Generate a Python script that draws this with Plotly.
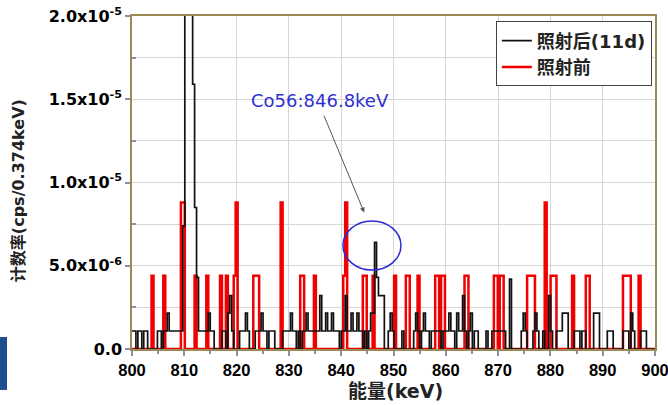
import numpy as np
import plotly.graph_objects as go

# ---------------- data ----------------
BIN_START = 800.0          # keV
BIN_WIDTH = 0.374          # keV per channel
N_BINS = 268

# after irradiation (11 d): bin-centre energy (keV) and count rate (1e-6 cps / 0.374 keV)
black_energy = [800.2, 800.6, 801.3, 801.7, 802.4, 802.8, 805.1, 805.4,
                806.2, 806.5, 806.9, 807.3, 807.7, 808.0, 808.4, 808.8, 809.2,
                809.5, 809.9, 810.3, 810.7, 811.0, 811.4, 811.8, 812.2, 812.5,
                812.9, 813.3, 813.7, 814.0, 814.4, 814.8, 815.1, 815.5,
                817.4, 817.8, 818.5, 818.9, 819.3,
                820.8, 821.1, 821.5, 821.9, 822.3,
                823.7, 824.1, 824.5, 824.9, 825.2, 825.6, 826.4, 826.7, 827.1,
                829.0, 829.4, 829.7, 830.1, 830.5, 830.9, 831.2, 832.0, 832.7, 833.1,
                833.5, 833.8, 834.2, 834.6, 835.0, 835.3, 835.7, 836.1, 836.5, 836.8,
                837.2, 837.6, 838.0, 838.3, 838.7, 839.1, 839.5, 840.2, 840.6, 841.0,
                841.3, 841.7, 842.1, 842.5, 842.8, 843.2, 843.6, 843.9, 844.7, 845.4,
                845.8, 846.2, 846.6, 846.9, 847.3, 847.7, 848.1,
                849.2, 849.6, 849.9, 851.8, 854.0, 854.4, 854.8, 855.5, 855.9, 856.3,
                856.7, 857.4, 857.8, 858.2, 858.5, 858.9, 859.7, 860.0, 860.4, 860.8,
                861.2, 861.5, 862.3, 862.6, 863.0, 863.4, 863.8, 864.5, 864.9, 865.6,
                866.0, 867.9, 869.0, 869.4, 869.8, 870.1, 870.5, 870.9, 871.2, 872.4,
                874.6, 875.0, 875.4, 876.9, 877.2, 877.6, 878.7, 879.8, 880.2,
                881.3, 881.7, 882.1, 882.5, 882.8, 883.2, 884.7, 885.1, 885.5,
                886.2, 886.6, 888.5, 888.8, 889.2, 891.1, 891.4, 891.8,
                894.1, 894.4, 894.8, 895.6, 895.9, 897.4, 897.8, 898.2]
black_rate = [1.08, 1.08, 1.08, 1.08, 1.08, 1.08, 1.08, 1.08,
              1.08, 1.08, 2.16, 1.08, 1.08, 1.08, 1.08, 1.08, 1.08,
              1.08, 7.4, 40.0, 60.0, 45.0, 25.0, 15.9, 8.5, 4.3,
              1.08, 1.08, 1.08, 1.08, 1.08, 2.16, 1.08, 1.08,
              1.08, 1.08, 2.16, 3.2, 1.08,
              1.08, 1.08, 1.08, 2.16, 1.08,
              1.08, 1.08, 1.08, 2.16, 1.08, 1.08, 1.08, 1.08, 1.08,
              1.08, 1.08, 1.08, 1.08, 2.16, 1.08, 1.08, 1.08, 1.08, 1.08,
              2.16, 1.08, 1.08, 1.08, 1.08, 1.08, 1.08, 3.2, 1.08, 1.08,
              2.16, 1.08, 1.08, 2.16, 1.08, 1.08, 1.08, 1.08, 1.08, 3.2,
              1.08, 1.08, 2.16, 1.08, 1.08, 2.16, 1.08, 1.08, 1.08, 1.08,
              2.16, 2.16, 6.4, 4.3, 3.2, 3.2, 3.2,
              1.08, 2.16, 1.08, 1.08, 1.08, 2.16, 1.08, 1.08, 2.16, 1.08,
              1.08, 1.08, 1.08, 1.08, 1.08, 1.08, 1.08, 1.08, 1.08, 2.16,
              1.08, 1.08, 2.16, 1.08, 1.08, 3.2, 1.08, 1.08, 2.16, 1.08,
              1.08, 1.08, 1.08, 1.08, 1.08, 1.08, 1.08, 1.08, 1.08, 4.2,
              1.08, 2.16, 1.08, 1.08, 2.16, 1.08, 1.08, 3.2, 1.08,
              1.08, 1.08, 1.08, 2.16, 2.16, 2.16, 1.08, 1.08, 1.08,
              1.08, 1.08, 2.16, 2.16, 2.16, 1.08, 1.08, 1.08,
              1.08, 1.08, 1.08, 2.16, 1.08, 1.08, 1.08, 1.08]

# before irradiation
red_energy = [803.9, 806.2, 809.5, 809.9, 812.2, 814.4, 817.0, 818.1, 819.6, 820.0,
              823.4, 823.7, 824.1, 828.6, 832.4, 832.7, 835.0, 840.6, 841.0,
              844.3, 844.7, 846.2, 850.3, 852.5, 852.9, 854.8, 858.2, 858.5,
              859.3, 859.7, 863.8, 864.1, 869.4, 869.8, 870.5, 870.9,
              875.7, 876.1, 876.5, 876.9, 879.1, 880.2, 880.6, 881.0, 884.3,
              887.0, 887.3, 894.1, 894.4, 894.8, 895.2, 897.1]
red_rate = [4.4, 4.4, 8.8, 8.8, 4.4, 4.4, 4.4, 4.4, 4.4, 8.8,
            4.4, 4.4, 4.4, 8.8, 4.4, 4.4, 4.4, 4.4, 8.8,
            4.4, 4.4, 4.4, 4.4, 4.4, 4.4, 4.4, 4.4, 4.4,
            4.4, 4.4, 4.4, 4.4, 4.4, 4.4, 4.4, 4.4,
            4.4, 4.4, 4.4, 4.4, 8.8, 4.4, 4.4, 4.4, 4.4,
            4.4, 4.4, 4.4, 4.4, 4.4, 4.4, 4.4]

x_tick_values = list(range(800, 901, 10))
y_tick_values = [0.0, 5e-6, 1e-5, 1.5e-5, 2e-5]
y_tick_labels = ["0.0", "5.0x10<sup>-6</sup>", "1.0x10<sup>-5</sup>",
                 "1.5x10<sup>-5</sup>", "2.0x10<sup>-5</sup>"]

series_names = ["照射后(11d)", "照射前"]
label_peak = "Co56:846.8keV"


# ---------------- build step histograms ----------------
def histogram(energies, rates):
    counts = np.zeros(N_BINS)
    idx = np.floor((np.asarray(energies) - BIN_START) / BIN_WIDTH).astype(int)
    counts[idx] = np.asarray(rates) * 1e-6
    edges = BIN_START + BIN_WIDTH * np.arange(N_BINS + 1)
    return edges, np.append(counts, counts[-1])


bx, by = histogram(black_energy, black_rate)
rx, ry = histogram(red_energy, red_rate)

FONT = "DejaVu Sans, Noto Sans CJK SC, sans-serif"
XFONT = "Liberation Sans, Arial, sans-serif"
fig = go.Figure()
fig.add_trace(go.Scatter(x=rx, y=ry, mode="lines", line_shape="hv",
                         line=dict(color="#f00000", width=2.5),
                         name="<b>" + series_names[1] + "</b>"))
fig.add_trace(go.Scatter(x=bx, y=by, mode="lines", line_shape="hv",
                         line=dict(color="#111111", width=1.7),
                         name="<b>" + series_names[0] + "</b>"))

axis_line = "#9c8a55"
tick_col = "#8c8cab"
fig.update_xaxes(range=[800, 900], tickmode="array", tickvals=x_tick_values,
                 ticktext=["<b>%d</b>" % v for v in x_tick_values],
                 tickfont=dict(family=XFONT, size=16.5, color="black"),
                 ticklabeloverflow="allow", automargin=False,
                 ticks="outside", ticklen=5, tickcolor=tick_col, tickwidth=1.5,
                 minor=dict(dtick=5, tick0=800, ticks="outside", ticklen=3,
                            tickcolor=tick_col, showgrid=False),
                 showgrid=True, gridcolor="#d6d6d6", gridwidth=1,
                 showline=True, linecolor=axis_line, linewidth=1.5, mirror=True,
                 zeroline=False)
fig.update_yaxes(range=[0, 2e-5], tickmode="array", tickvals=y_tick_values,
                 ticktext=["<b>%s</b>" % t for t in y_tick_labels],
                 tickfont=dict(family=FONT, size=16, color="black"),
                 ticklabeloverflow="allow", automargin=False,
                 ticks="outside", ticklen=5, tickcolor=tick_col, tickwidth=1.5,
                 minor=dict(tickmode="array", tickvals=[2.5e-6, 7.5e-6, 1.25e-5, 1.75e-5],
                            ticks="inside", ticklen=4, tickcolor=tick_col,
                            showgrid=True, gridcolor="#d6d6d6"),
                 showgrid=True, gridcolor="#d6d6d6", gridwidth=1,
                 showline=True, linecolor=axis_line, linewidth=1.5, mirror=True,
                 zeroline=False)

fig.update_layout(
    width=668, height=405,
    margin=dict(l=132, r=13, t=16, b=56, autoexpand=False),
    paper_bgcolor="white", plot_bgcolor="white",
    font=dict(family=FONT, color="black"),
    showlegend=True,
    legend=dict(x=0.994, y=0.984, xanchor="right", yanchor="top",
                traceorder="reversed", bgcolor="white",
                bordercolor="#444444", borderwidth=1,
                font=dict(family=FONT, size=18, color="#222222"),
                itemwidth=30, tracegroupgap=0,
                entrywidth=165, entrywidthmode="pixels"),
    annotations=[
        dict(text="<b>能量(keV)</b>", xref="paper", yref="paper", x=0.503, y=-0.126,
             xanchor="center", yanchor="middle", showarrow=False,
             font=dict(family=FONT, size=19, color="#222222")),
        dict(text="<b>计数率(cps/0.374keV)</b>", xref="paper", yref="paper",
             x=-0.218, y=0.477, textangle=-90, xanchor="center", yanchor="middle",
             showarrow=False, font=dict(family=FONT, size=16, color="#222222")),
        dict(text=label_peak, xref="x", yref="y", x=835.95, y=14.95e-6,
             xanchor="center", yanchor="middle", showarrow=False,
             font=dict(family=FONT, size=18, color="#3030d0")),
        dict(text="", xref="x", yref="y", x=844.4, y=8.2e-6,
             axref="x", ayref="y", ax=836.6, ay=14.1e-6,
             showarrow=True, arrowhead=2, arrowsize=1, arrowwidth=1,
             arrowcolor="#555555", standoff=0, startstandoff=0),
    ],
    shapes=[
        dict(type="circle", xref="x", yref="y", x0=840.34, x1=851.43,
             y0=4.74e-6, y1=7.69e-6, line=dict(color="#2b2bd6", width=1.5)),
        dict(type="rect", xref="paper", yref="paper", x0=-0.2524, x1=-0.239,
             y0=-0.123, y1=0.036, fillcolor="#1f4f8f", line=dict(width=0),
             layer="above"),
    ],
)

fig.write_html("out.html")
